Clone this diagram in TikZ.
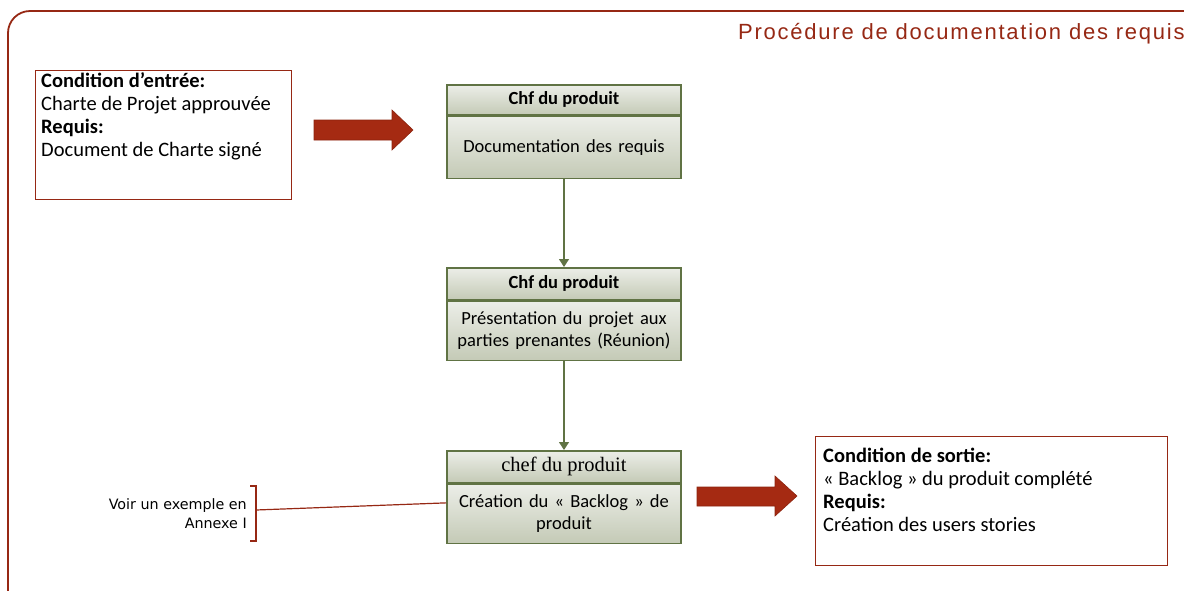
\documentclass[tikz,border=0pt]{standalone}
\usepackage{fontspec}
\setmainfont{Carlito}
\newfontfamily\titlefont[LetterSpace=8]{Liberation Sans}
\newfontfamily\notefont{DejaVu Sans}
\newfontfamily\seriffont{Liberation Serif}
\usetikzlibrary{arrows.meta,calc}

\definecolor{rust}{RGB}{150,40,20}
\definecolor{arrowfill}{RGB}{165,42,18}
\definecolor{olive}{RGB}{96,115,68}
\definecolor{boxtop}{RGB}{236,238,232}
\definecolor{boxbot}{RGB}{196,202,182}

\tikzset{
  procbox/.style={draw=olive, line width=1.5pt, top color=boxtop, bottom color=boxbot,
    minimum width=234pt, inner sep=0pt, anchor=north, align=center},
  headbox/.style={procbox, font=\bfseries\fontsize{18.5}{20}\selectfont},
  bodybox/.style={procbox, text width=226pt, font=\fontsize{18.5}{22}\selectfont},
  condframe/.style={draw=rust, line width=1.4pt, anchor=north west, inner sep=0pt},
  condtext/.style={anchor=north west, inner sep=0pt, align=left, font=\fontsize{20.5}{23}\selectfont},
  flow/.style={draw=olive, line width=1.2pt, -{Triangle[width=10pt,length=8pt]}},
  bigarrow/.style={fill=arrowfill, draw=arrowfill!85!black, line width=0.6pt},
  noteline/.style={draw=rust, line width=1.2pt}
}

\begin{document}
\begin{tikzpicture}[x=1pt,y=-1pt]
  \useasboundingbox (0,0) rectangle (1184,590);

  % outer frame and heading
  \draw[rust, line width=1.8pt, rounded corners=22pt] (8,620) -- (8,11) -- (1220,11);
  \node[anchor=base west, inner sep=0pt, text=rust, font=\titlefont\fontsize{22}{24}\selectfont]
    (title) at (738,39) {Procédure de documentation des requis};

  % entry condition
  \node[condframe, minimum width=256pt, minimum height=129pt] (cin) at (35,70) {};
  \node[condtext] (cintext) at (41,72)
    {\textbf{Condition d’entrée:}\\Charte de Projet approuvée\\\textbf{Requis:}\\Document de Charte signé};

  % entry arrow
  \fill[bigarrow] (314,120) -- (392,120) -- (392,110) -- (413,130) -- (392,150) -- (392,140) -- (314,140) -- cycle;

  % process steps
  \node[headbox, minimum height=30pt] (h1) at (564,84) {Chf du produit};
  \node[bodybox, minimum height=62pt] (b1) at (h1.south) {Documentation des requis};

  \node[headbox, minimum height=32pt] (h2) at (564,267) {Chf du produit};
  \node[bodybox, minimum height=59pt] (b2) at (h2.south) {Présentation du projet aux\\parties prenantes (Réunion)};

  \node[procbox, minimum height=32pt, font=\seriffont\fontsize{20.5}{22}\selectfont] (h3) at (564,450) {chef du produit};
  \node[bodybox, minimum height=59pt] (b3) at (h3.south) {Création du « Backlog » de\\produit};

  \draw[flow] (b1) -- (h2);
  \draw[flow] (b2) -- (h3);

  % side note
  \node[anchor=east, inner sep=0pt, align=right, font=\notefont\fontsize{14.3}{19}\selectfont]
    (note) at (247,514) {Voir un exemple en\\Annexe I};
  \coordinate (brtop) at (250,486);
  \coordinate (brbot) at (250,541);
  \coordinate (brmid) at (256,510);
  \draw[noteline] (brtop) -| (brbot -| brmid) -- (brbot);
  \draw[noteline] (brmid) -- ($(b3.north west)!0.32!(b3.south west)$);

  % exit arrow
  \fill[bigarrow] (697,487) -- (775,487) -- (775,476) -- (797,496) -- (775,516) -- (775,506) -- (697,506) -- cycle;

  % exit condition
  \node[condframe, minimum width=352pt, minimum height=129pt] (cout) at (815,436) {};
  \node[condtext] (couttext) at (823,448)
    {\textbf{Condition de sortie:}\\« Backlog » du produit complété\\\textbf{Requis:}\\Création des users stories};
\end{tikzpicture}
\end{document}
